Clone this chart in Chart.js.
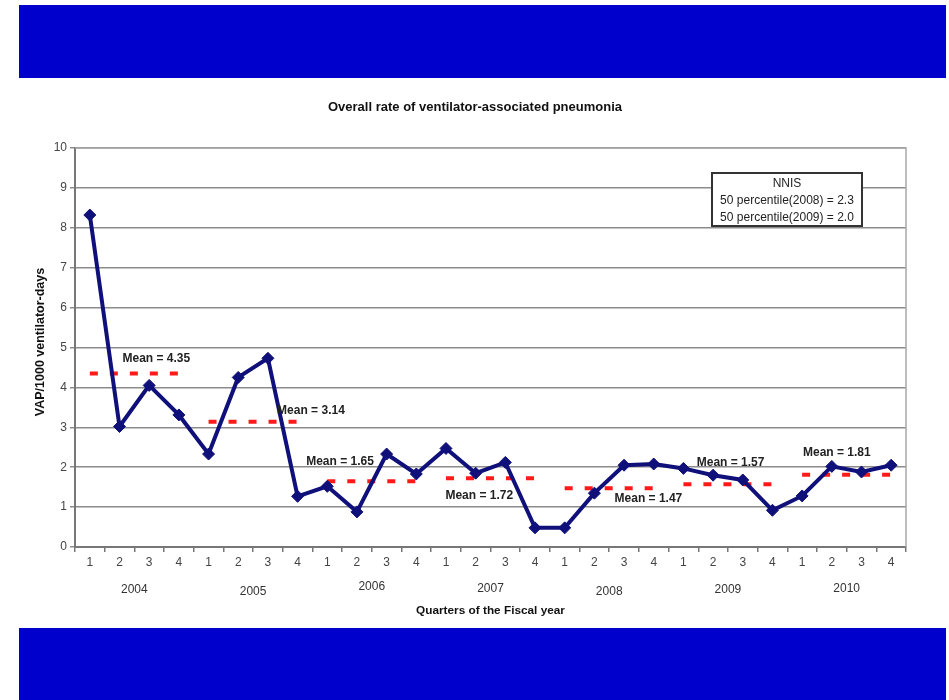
<!DOCTYPE html>
<html>
<head>
<meta charset="utf-8">
<script src="https://cdn.jsdelivr.net/npm/chart.js@4.4.1/dist/chart.umd.min.js"></script>
<style>
    body { margin: 0; background: #fff; }
    .band { position: absolute; left: 19px; width: 927px; background: #0000cc; }
    #wrap { position: absolute; left: 0; top: 0; width: 949px; height: 700px; }
</style>
</head>
<body>
<div class="band" style="top:5px;height:73px"></div>
<div class="band" style="top:628px;height:72px"></div>
<div id="wrap"><canvas id="vapChart" width="949" height="700"></canvas></div>
<script>
// 四半期ごとのVAP発生率
const years = ['2004', '2005', '2006', '2007', '2008', '2009', '2010'];
const quarters = ['1', '2', '3', '4'];
const vapRates = [
    8.32, 3.02, 4.05, 3.31,
    2.33, 4.25, 4.73, 1.27,
    1.52, 0.88, 2.33, 1.83,
    2.47, 1.85, 2.12, 0.48,
    0.48, 1.35, 2.05, 2.08,
    1.97, 1.80, 1.68, 0.92,
    1.28, 2.02, 1.88, 2.05
];
const yearMeans = [4.35, 3.14, 1.65, 1.72, 1.47, 1.57, 1.81];
const yTicks = [0, 1, 2, 3, 4, 5, 6, 7, 8, 9, 10];
const nnisLines = ['NNIS', '50 percentile(2008) = 2.3', '50 percentile(2009) = 2.0'];

const labels = [];
years.forEach(() => quarters.forEach(q => labels.push(q)));

// 平均ラベルの置き場所（カテゴリ位置, 値）
const meanLabelAt = [[1.10, 4.72], [6.31, 3.42], [7.29, 2.14], [11.98, 1.28], [17.68, 1.21], [20.45, 2.11], [24.03, 2.36]];
const yearNudge = [0, 2, -3, -1, 2, 0, -1];

const FONT = '"Liberation Sans", Arial, sans-serif';

const meanSets = yearMeans.map((m, k) => ({
    data: labels.map((_, i) => Math.floor(i / quarters.length) === k ? m : null),
    borderColor: '#ff1a1a',
    borderWidth: 4,
    borderDash: [8, 12],
    pointRadius: 0,
    spanGaps: false,
    tension: 0
}));

const extras = {
    id: 'extras',
    beforeDatasetsDraw(chart) {
        const { ctx, chartArea: a } = chart;
        ctx.save();
        ctx.strokeStyle = '#a8a8a8';
        ctx.lineWidth = 1.5;
        ctx.beginPath();
        ctx.moveTo(a.left, a.top);
        ctx.lineTo(a.right, a.top);
        ctx.lineTo(a.right, a.bottom);
        ctx.stroke();
        ctx.restore();
    },
    afterDraw(chart) {
        const { ctx, chartArea: a, scales: { x, y } } = chart;
        ctx.save();
        ctx.fillStyle = '#111';
        ctx.textAlign = 'center';
        ctx.textBaseline = 'middle';

        ctx.font = 'bold 13px ' + FONT;
        ctx.fillText('Overall rate of ventilator-associated pneumonia', 475, 107);

        ctx.font = 'bold 11.8px ' + FONT;
        ctx.fillText('Quarters of the Fiscal year', (a.left + a.right) / 2, 611);

        ctx.save();
        ctx.translate(41, 342);
        ctx.rotate(-Math.PI / 2);
        ctx.font = 'bold 12.5px ' + FONT;
        ctx.fillText('VAP/1000 ventilator-days', 0, 0);
        ctx.restore();

        // 年ラベル
        ctx.font = '12px ' + FONT;
        ctx.fillStyle = '#333';
        years.forEach((yr, k) => {
            const cx = (x.getPixelForValue(k * 4 + 1) + x.getPixelForValue(k * 4 + 2)) / 2;
            ctx.fillText(yr, cx, 590 + yearNudge[k]);
        });

        // 平均値ラベル
        ctx.font = 'bold 12px ' + FONT;
        ctx.fillStyle = '#222';
        ctx.textAlign = 'left';
        yearMeans.forEach((m, k) => {
            const [ix, v] = meanLabelAt[k];
            const px = x.getPixelForValue(0) + ix * (x.getPixelForValue(1) - x.getPixelForValue(0));
            ctx.fillText('Mean = ' + m.toFixed(2), px, y.getPixelForValue(v));
        });

        // NNISの枠
        ctx.fillStyle = '#fff';
        ctx.fillRect(712, 173, 150, 53);
        ctx.strokeStyle = '#333';
        ctx.lineWidth = 2;
        ctx.strokeRect(712, 173, 150, 53);
        ctx.fillStyle = '#222';
        ctx.font = '12px ' + FONT;
        ctx.textAlign = 'center';
        nnisLines.forEach((t, i) => ctx.fillText(t, 787, 184 + i * 17));
        ctx.restore();
    }
};

new Chart(document.getElementById('vapChart'), {
    type: 'line',
    data: {
        labels: labels,
        datasets: [
            {
                data: vapRates,
                borderColor: '#10107a',
                backgroundColor: '#10107a',
                borderWidth: 4,
                pointStyle: 'rectRot',
                pointRadius: 6,
                pointBorderWidth: 1,
                tension: 0
            },
            ...meanSets
        ]
    },
    options: {
        responsive: false,
        animation: false,
        layout: { padding: { left: 0, top: 148, right: 43, bottom: 0 } },
        plugins: {
            legend: { display: false },
            tooltip: { enabled: false },
            title: { display: false }
        },
        scales: {
            x: {
                offset: true,
                afterFit: s => { s.height = 153; },
                grid: { offset: true, drawOnChartArea: false, drawTicks: true, tickLength: 5, color: '#777', lineWidth: 1.5 },
                border: { color: '#777', width: 2 },
                ticks: { color: '#444', font: { family: FONT, size: 12 }, padding: 3, maxRotation: 0, autoSkip: false }
            },
            y: {
                min: yTicks[0],
                max: yTicks[yTicks.length - 1],
                afterFit: s => { s.width = 75; },
                afterBuildTicks: s => { s.ticks = yTicks.map(v => ({ value: v })); },
                grid: { color: '#8c8c8c', lineWidth: 1.5, tickLength: 5 },
                border: { color: '#777', width: 2 },
                ticks: { color: '#444', font: { family: FONT, size: 12 }, padding: 3 }
            }
        }
    },
    plugins: [extras]
});
</script>
</body>
</html>
